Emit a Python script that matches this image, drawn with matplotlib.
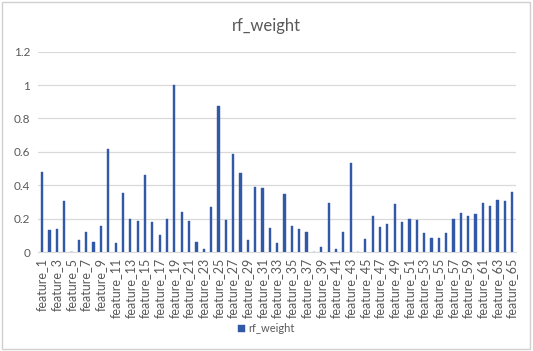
import numpy as np
import matplotlib.pyplot as plt
from matplotlib.patches import Rectangle

# rf_weight per feature
features = ["feature_%d" % i for i in range(1, 66)]
rf_weight = [
    0.481, 0.132, 0.140, 0.303, 0.0, 0.074, 0.120, 0.058, 0.158, 0.617,
    0.052, 0.351, 0.200, 0.186, 0.459, 0.178, 0.100, 0.200, 1.000, 0.242,
    0.186, 0.060, 0.016, 0.270, 0.876, 0.194, 0.587, 0.471, 0.070, 0.391,
    0.383, 0.146, 0.056, 0.345, 0.154, 0.136, 0.118, 0.0, 0.030, 0.291,
    0.016, 0.118, 0.531, 0.0, 0.078, 0.216, 0.148, 0.166, 0.285, 0.180,
    0.200, 0.194, 0.114, 0.086, 0.082, 0.114, 0.198, 0.234, 0.214, 0.228,
    0.295, 0.273, 0.313, 0.303, 0.361,
]
yticks = [0, 0.2, 0.4, 0.6, 0.8, 1, 1.2]
ytick_labels = ["0", "0.2", "0.4", "0.6", "0.8", "1", "1.2"]

plt.rcParams['font.family'] = ['Lato', 'DejaVu Sans']
bar_color = '#3259A8'
text_color = '#595959'

fig = plt.figure(figsize=(5.33, 3.51), dpi=100)
fig.patches.append(Rectangle((0.004, 0.006), 0.99, 0.988, transform=fig.transFigure,
                             fill=False, edgecolor='#d0d0d0', linewidth=1))
ax = fig.add_axes([0.0722, 0.282, 0.8958, 0.571])

x = np.arange(len(features))
ax.bar(x, rf_weight, width=0.3, color=bar_color, label='rf_weight', zorder=3,
       edgecolor=bar_color, linewidth=0.3)

ax.set_xlim(-0.5, len(features) - 0.5)
ax.set_ylim(0, 1.2)
ax.set_yticks(yticks)
ax.set_yticklabels(ytick_labels, color=text_color, fontsize=8.5)
ax.set_xticks(x[::2])
ax.set_xticklabels(features[::2], rotation=90, color=text_color, fontsize=9)
ax.tick_params(axis='both', length=0, pad=6)
ax.tick_params(axis='x', pad=4)
ax.grid(axis='y', color='#d9d9d9', linewidth=0.9, zorder=0)
for s in ['top', 'right', 'left']:
    ax.spines[s].set_visible(False)
ax.spines['bottom'].set_color('#d9d9d9')

fig.text(0.5, 0.925, 'rf_weight', ha='center', va='center', fontsize=12, color=text_color)
fig.legend(loc='center', bbox_to_anchor=(0.5, 0.063), frameon=False, fontsize=8,
           handlelength=0.6, handleheight=0.6, handletextpad=0.3, labelcolor=text_color)

fig.savefig('out.png', dpi=100)
